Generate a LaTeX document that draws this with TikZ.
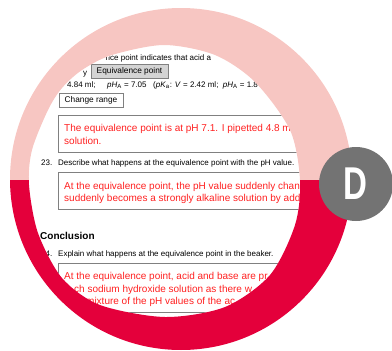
\documentclass[tikz,border=0pt]{standalone}
\usepackage{fontspec}
\setmainfont{Liberation Sans}
\usetikzlibrary{positioning}
\definecolor{ringpink}{RGB}{247,198,194}
\definecolor{ringred}{RGB}{228,0,59}
\definecolor{badgegray}{RGB}{115,115,115}
\definecolor{answerred}{RGB}{255,32,32}
\definecolor{framegray}{RGB}{128,128,128}
\definecolor{buttongray}{RGB}{212,212,212}
% inner edge of the lens ring
\def\lensrim{plot[smooth cycle] coordinates {(164,45) (112,55) (82,70) (62,88) (48,110) (32,150) (29,185) (38,233) (62,278) (100,305) (165,317) (225,307) (270,275) (295,225) (300,180) (290,130) (255,82) (215,55)}}

\begin{document}
\begin{tikzpicture}[x=1pt, y=-1pt,
  small/.style={anchor=base west, inner sep=0pt, font=\fontsize{8}{9.6}\selectfont},
  answer/.style={anchor=base west, inner sep=0pt, text=answerred, font=\fontsize{10}{12}\selectfont},
  button/.style={draw=framegray, inner sep=0pt, minimum height=14pt, font=\fontsize{8.3}{10}\selectfont},
  answerbox/.style={draw=framegray, line width=0.8pt}]
\useasboundingbox (0,0) rectangle (392,351);
% worksheet seen through the lens
\begin{scope}
\clip \lensrim;
\node[small] (intro) at (105.5,60) {nce point indicates that acid a};
\node[small] (applyend) at (83,75) {y};
\node[button, fill=buttongray, minimum width=77pt] (equivbtn) at (129.5,71) {Equivalence point};
\node[small] (volume) at (67,87) {4.84 ml;};
\node[small] (phvalue) at (107,87) {\textit{pH}\textsubscript{A} = 7.05};
\node[small] (halfpoint) at (153,87) {(\textit{pK}\textsubscript{a}: \textit{V} = 2.42 ml;\ \ \textit{pH}\textsubscript{A} = 1.8};
\node[button, fill=white, minimum width=64pt] (rangebtn) at (91,100) {Change range};
% answer 22
\draw[answerbox] (58,115) rectangle (330,152);
\node[answer] (ansa1) at (64,131) {The equivalence point is at pH 7.1. I pipetted 4.8 m};
\node[answer] (ansa2) at (64,144) {solution.};
% question 23
\node[small] (qnum23) at (41,165) {23.};
\node[small] (q23) at (58,165) {Describe what happens at the equivalence point with the pH value.};
\draw[answerbox] (58,172) rectangle (330,209);
\node[answer] (ansb1) at (64,189) {At the equivalence point, the pH value suddenly chan};
\node[answer] (ansb2) at (64,201) {suddenly becomes a strongly alkaline solution by addi};
% conclusion
\node[anchor=base west, inner sep=0pt, font=\fontsize{10}{12}\selectfont\bfseries] (conclusion) at (40,239) {Conclusion};
\node[small] (qnum24) at (41,256) {24.};
\node[small] (q24) at (58,256) {Explain what happens at the equivalence point in the beaker.};
\draw[answerbox] (58,263) rectangle (330,312);
\node[answer] (ansc1) at (64,279) {At the equivalence point, acid and base are pr};
\node[answer] (ansc2) at (74,292) {ch sodium hydroxide solution as there w};
\node[answer] (ansc3) at (86,304) {mixture of the pH values of the ac};
\end{scope}
% ring, pale top half and red bottom half
\begin{scope}
\clip (0,0) rectangle (392,180);
\fill[ringpink, even odd rule] (181,179) circle (171pt) \lensrim;
\end{scope}
\begin{scope}
\clip (0,180) rectangle (392,351);
\fill[ringred, even odd rule] (181,179) circle (171pt) \lensrim;
\end{scope}
% badge
\fill[badgegray] (356,184) circle (37pt);
\node[text=white, inner sep=0pt, font=\fontsize{46}{46}\selectfont\bfseries] (badge) at (355.5,183.5) {\scalebox{0.72}[1]{D}};
\end{tikzpicture}
\end{document}
